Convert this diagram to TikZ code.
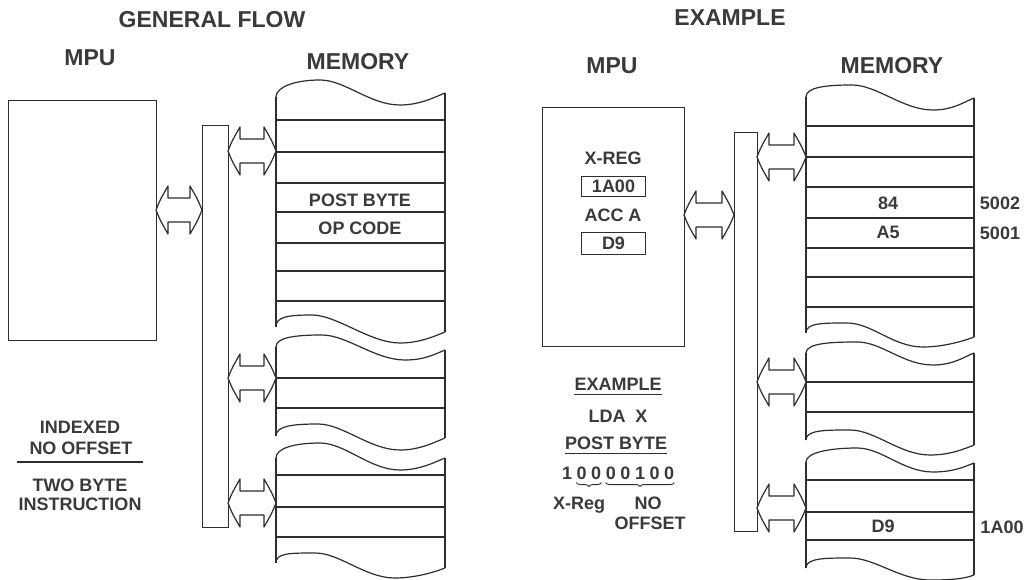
\documentclass[tikz,border=0pt]{standalone}
\usepackage{fontspec}
\setmainfont{Liberation Sans}
\usetikzlibrary{decorations.pathreplacing}
\definecolor{ink}{HTML}{2E2E2E}
\definecolor{txt}{HTML}{3A3A3A}
\tikzset{
  line/.style={draw=ink, line width=1.2pt},
  lbl/.style={text=txt, font=\fontsize{18}{20}\selectfont\bfseries, inner sep=0pt},
  ttl/.style={text=txt, font=\fontsize{23}{25}\selectfont\bfseries, inner sep=0pt},
  box/.style={draw=ink, line width=1.2pt, inner sep=0pt, fill=white},
}
% wave: left point, peak, trough, right point
\newcommand\memwave[8]{\draw[line] (#1,#2) .. controls (#1,#2-10) and (#3-25,#4) .. (#3,#4) .. controls (#3+25,#4) and (#5-30,#6) .. (#5,#6) .. controls (#5+20,#6) and (#7-10,#8+4) .. (#7,#8);}
% double block arrow: x1, x2, yc
\newcommand\bidir[3]{\draw[line, fill=white, line join=round] (#1,#3) .. controls (#1+4,#3-10) .. (#1+12,#3-24) -- (#1+12,#3-12) -- (#2-12,#3-12) -- (#2-12,#3-24) .. controls (#2-4,#3-10) .. (#2,#3) .. controls (#2-4,#3+10) .. (#2-12,#3+24) -- (#2-12,#3+12) -- (#1+12,#3+12) -- (#1+12,#3+24) .. controls (#1+4,#3+10) .. cycle;}
\begin{document}
\begin{tikzpicture}[x=1pt,y=-1pt]
\useasboundingbox[fill=white] (0,0) rectangle (1025,580);

%================ LEFT PANEL ================
\node[ttl] (tgf) at (212,20) {GENERAL FLOW};
\node[ttl] (tmpuL) at (90,58) {MPU};
\node[ttl] (tmemL) at (358,62) {MEMORY};

\node[box, anchor=north west, minimum width=148pt, minimum height=240pt] (mpuL) at (8,100) {};
\node[box, anchor=north west, minimum width=26pt, minimum height=402pt] (busL) at (202,125) {};

% memory section 1
\memwave{276}{97}{320}{80}{400}{105}{445}{93}
\memwave{276}{327}{312}{315}{400}{343}{445}{332}
\draw[line] (276,97) -- (276,327);
\draw[line] (445,93) -- (445,332);
\foreach \y in {120,152,183,212,243,271,301} \draw[line] (276,\y) -- (445,\y);
\node[lbl] (pbL) at (360,200) {POST BYTE};
\node[lbl] (ocL) at (360,228) {OP CODE};
% memory section 2
\memwave{276}{347}{322}{335}{405}{360}{445}{350}
\memwave{276}{436}{318}{424}{400}{450}{445}{438}
\draw[line] (276,347) -- (276,436);
\draw[line] (445,350) -- (445,438);
\foreach \y in {378,408} \draw[line] (276,\y) -- (445,\y);
% memory section 3
\memwave{276}{458}{320}{443}{400}{470}{445}{458}
\memwave{276}{563}{315}{553}{395}{578}{445}{568}
\draw[line] (276,458) -- (276,563);
\draw[line] (445,458) -- (445,568);
\foreach \y in {475,507,537} \draw[line] (276,\y) -- (445,\y);

\bidir{156}{202}{210}
\bidir{228}{276}{151}
\bidir{228}{276}{378}
\bidir{228}{276}{503}

\node[lbl] (ix) at (80,427) {INDEXED};
\node[lbl] (no) at (81,448) {NO OFFSET};
\draw[line] (17,462) -- (143,462);
\node[lbl] (tb) at (80,485) {TWO BYTE};
\node[lbl] (ins) at (80,504) {INSTRUCTION};

%================ RIGHT PANEL ================
\node[ttl] (tex) at (730,18) {EXAMPLE};
\node[ttl] (tmpuR) at (612,66) {MPU};
\node[ttl] (tmemR) at (892,66) {MEMORY};

\node[box, anchor=north west, minimum width=142pt, minimum height=239pt] (mpuR) at (542,107) {};
\node[box, anchor=north west, minimum width=23pt, minimum height=399pt] (busR) at (734,132) {};

\node[lbl] (xreg) at (613,158) {X-REG};
\node[box, line width=1pt, anchor=north west, minimum width=64pt, minimum height=20pt] (xbox) at (581,176) {};
\node[lbl] at (xbox.center) (xval) {1A00};
\node[lbl] (acca) at (613,215) {ACC A};
\node[box, line width=1pt, anchor=north west, minimum width=64pt, minimum height=22pt] (abox) at (581,232) {};
\node[lbl] at (abox.center) (aval) {D9};

% memory section 1
\memwave{806}{97}{852}{85}{933}{110}{974}{98}
\memwave{806}{333}{847}{323}{923}{347}{974}{337}
\draw[line] (806,97) -- (806,333);
\draw[line] (974,98) -- (974,337);
\foreach \y in {126,157,187,218,248,277,307} \draw[line] (806,\y) -- (974,\y);
\node[lbl] (m84) at (888,203) {84};
\node[lbl] (mA5) at (888,232) {A5};
\node[lbl] (a5002) at (1000,203) {5002};
\node[lbl] (a5001) at (1000,233) {5001};
% memory section 2
\memwave{806}{353}{857}{342}{933}{365}{974}{353}
\memwave{806}{440}{850}{430}{930}{455}{974}{445}
\draw[line] (806,353) -- (806,440);
\draw[line] (974,353) -- (974,445);
\foreach \y in {382,412} \draw[line] (806,\y) -- (974,\y);
% memory section 3
\memwave{806}{462}{857}{448}{933}{472}{974}{463}
\memwave{806}{568}{850}{558}{930}{580}{974}{575}
\draw[line] (806,462) -- (806,568);
\draw[line] (974,463) -- (974,575);
\foreach \y in {480,512,540} \draw[line] (806,\y) -- (974,\y);
\node[lbl] (mD9) at (883,526) {D9};
\node[lbl] (a1A00) at (1002,527) {1A00};

\bidir{684}{734}{215}
\bidir{757}{806}{157}
\bidir{757}{806}{382}
\bidir{757}{806}{508}

\node[lbl] (exb) at (618,384) {EXAMPLE};
\draw[line, line width=1pt] ([yshift=-4pt]exb.south west) -- ([yshift=-4pt]exb.south east);
\node[lbl] (lda) at (618,416) {LDA\ \ X};
\node[lbl] (pbb) at (616,443) {POST BYTE};
\draw[line, line width=1pt] ([yshift=-4pt]pbb.south west) -- ([yshift=-4pt]pbb.south east);
\foreach \d [count=\i] in {1,0,0,0,0,1,0,0}
  \node[lbl] (d\i) at (567+14.6*\i-14.6,473) {\d};
\draw[line, line width=0.9pt, decorate, decoration={brace, amplitude=4pt}] ([yshift=-3pt]d3.south east) -- ([yshift=-3pt]d2.south west);
\draw[line, line width=0.9pt, decorate, decoration={brace, amplitude=4pt}] ([yshift=-3pt]d8.south east) -- ([yshift=-3pt]d4.south west);
\node[lbl, anchor=base] (xr) at (579,509) {X-Reg};
\node[lbl] (nob) at (648,503) {NO};
\node[lbl] (offb) at (650,523) {OFFSET};
\end{tikzpicture}
\end{document}
